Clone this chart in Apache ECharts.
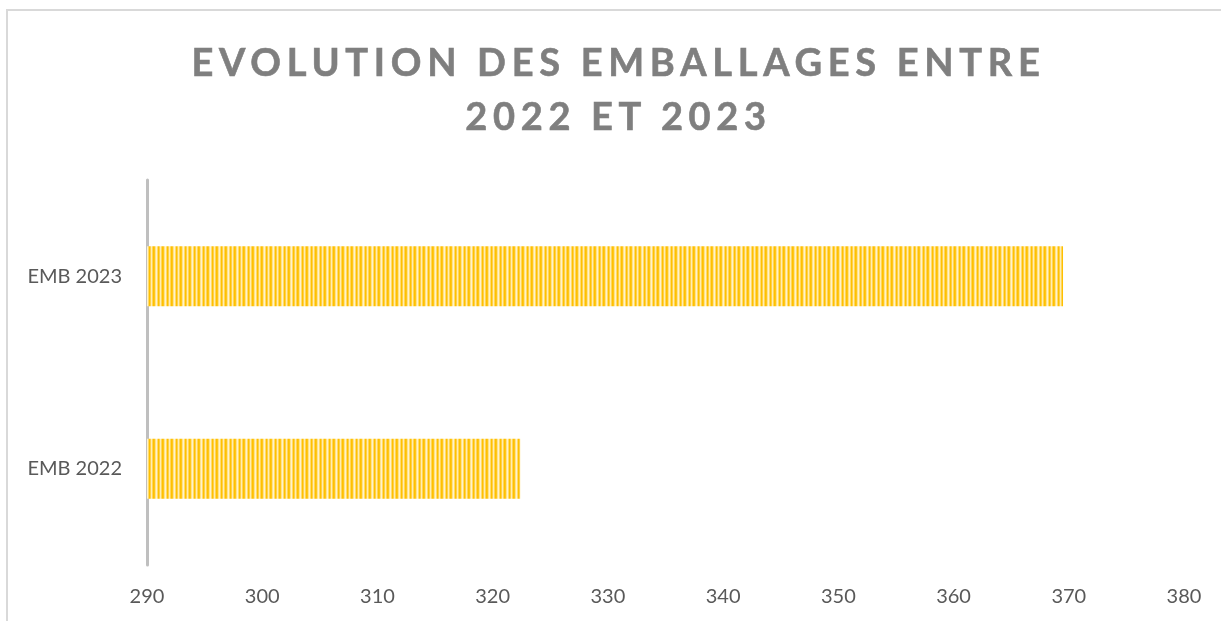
<!DOCTYPE html>
<html>
<head>
<meta charset="utf-8">
<script src="https://cdn.jsdelivr.net/npm/echarts@6/dist/echarts.min.js"></script>
<style>
  html, body { margin: 0; padding: 0; background: #fff; }
  #frame {
    position: absolute; left: 6px; top: 9px; right: 0; bottom: 0;
    border-left: 2px solid #d9d9d9; border-top: 2px solid #d9d9d9;
  }
  #main { position: absolute; left: 0; top: 0; width: 1221px; height: 621px; }
  #title {
    position: absolute; left: 8px; width: 1221px; top: 34px;
    text-align: center; font-family: "Lato", sans-serif; font-weight: 700;
    font-size: 38px; line-height: 54px; letter-spacing: 5.7px; color: #7f7f7f;
    -webkit-text-stroke: 0.6px #7f7f7f;
  }
</style>
</head>
<body>
<div id="frame"></div>
<div id="main"></div>
<div id="title">EVOLUTION DES EMBALLAGES ENTRE<br>2022 ET 2023</div>
<script>
const categories = ["EMB 2022", "EMB 2023"];
const values = [322.4, 369.5];
const axisMin = 290;
const axisMax = 380;
const axisStep = 10;

// striped fill like the original bars
function stripes() {
  const cols = ["#FFC000", "#FFC61A", "#FFE38A", "#FFF2CC", "#FFDB6B", "#FFC000", "#FFD04A", "#FFEDB3", "#FFD659"];
  const c = document.createElement("canvas");
  c.width = cols.length;
  c.height = 4;
  const ctx = c.getContext("2d");
  cols.forEach((col, i) => {
    ctx.fillStyle = col;
    ctx.fillRect(i, 0, 1, 4);
  });
  return c;
}

const labelFont = { fontFamily: "Lato", fontSize: 20, color: "#595959" };

const options = {
  animation: false,
  grid: { left: 147, right: 37, top: 180, bottom: 56 },
  xAxis: {
    type: "value",
    min: axisMin,
    max: axisMax,
    interval: axisStep,
    axisLine: { show: false },
    axisTick: { show: false },
    splitLine: { show: false },
    axisLabel: Object.assign({ margin: 22 }, labelFont)
  },
  yAxis: {
    type: "category",
    data: categories,
    axisLine: { show: true, lineStyle: { color: "#bfbfbf", width: 3 } },
    axisTick: { show: false },
    axisLabel: Object.assign({ margin: 25 }, labelFont)
  },
  series: [
    {
      type: "bar",
      data: values,
      barWidth: 60,
      itemStyle: { color: { image: stripes(), repeat: "repeat" } }
    }
  ]
};

var myChart = echarts.init(document.getElementById("main"));
myChart.setOption(options);
</script>
</body>
</html>
